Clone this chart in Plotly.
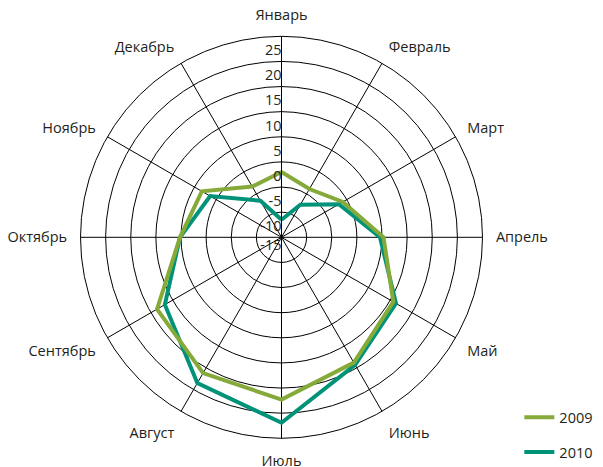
import plotly.graph_objects as go

months = ["Январь", "Февраль", "Март", "Апрель", "Май", "Июнь",
          "Июль", "Август", "Сентябрь", "Октябрь", "Ноябрь", "Декабрь"]
v2009 = [-2.0, -3.9, -0.9, 5.3, 10.7, 13.8, 17.3, 16.2, 13.6, 5.2, 3.3, -3.35]
v2010 = [-11.5, -7.5, -1.8, 4.6, 11.3, 14.3, 21.9, 18.5, 11.8, 5.2, 1.4, -6.6]
r_ticks = [-15, -10, -5, 0, 5, 10, 15, 20, 25]

GREEN = "#86aa3a"
TEAL = "#00937a"
TXT = "#231f20"
FONT = "Open Sans"
LABEL_SHIFT = -1.6  # radial units: tick labels sit just below their ring

# the centre label cannot move below the range start, so it is pushed down with an empty line
label_r = [max(v + LABEL_SHIFT, r_ticks[0]) for v in r_ticks]
label_text = [("\u00a0<br>" + str(v)) if v == r_ticks[0] else str(v) for v in r_ticks]
label_pos = ["middle left" if v == r_ticks[0] else "bottom left" for v in r_ticks]

fig = go.Figure()
fig.add_trace(go.Scatterpolar(
    r=v2010 + v2010[:1], theta=months + months[:1], mode="lines",
    name="2010", line=dict(color=TEAL, width=4), legendgroup="b", legendrank=2))
fig.add_trace(go.Scatterpolar(
    r=v2009 + v2009[:1], theta=months + months[:1], mode="lines",
    name="2009", line=dict(color=GREEN, width=4), legendgroup="a", legendrank=1))
fig.add_trace(go.Scatterpolar(
    r=label_r, theta=[months[0]] * len(r_ticks), mode="text",
    text=label_text, textposition=label_pos,
    textfont=dict(family=FONT, size=14.5, color=TXT),
    showlegend=False, hoverinfo="skip", cliponaxis=False))

fig.update_layout(
    width=603, height=467,
    margin=dict(l=0, r=0, t=0, b=0),
    paper_bgcolor="white", plot_bgcolor="white",
    font=dict(family=FONT, size=14.5, color=TXT),
    polar=dict(
        domain=dict(x=[72.5 / 603, 474.5 / 603], y=[36.7 / 467, 438.7 / 467]),
        bgcolor="white",
        radialaxis=dict(range=[-15, 25], tickvals=r_ticks, showticklabels=False,
                        angle=90, showline=True, linecolor="black", linewidth=1,
                        gridcolor="black", gridwidth=1, ticks=""),
        angularaxis=dict(direction="clockwise", rotation=90,
                         showline=True, linecolor="black", linewidth=1,
                         gridcolor="black", gridwidth=1,
                         ticks="outside", ticklen=10, tickcolor="rgba(0,0,0,0)",
                         tickfont=dict(family=FONT, size=14.5, color=TXT)),
    ),
    showlegend=True,
    legend=dict(x=0.848, y=0.158, xanchor="left", yanchor="top",
                traceorder="grouped", tracegroupgap=13,
                font=dict(family=FONT, size=14.5, color=TXT),
                bgcolor="rgba(0,0,0,0)"),
)

fig.write_html("out.html")
